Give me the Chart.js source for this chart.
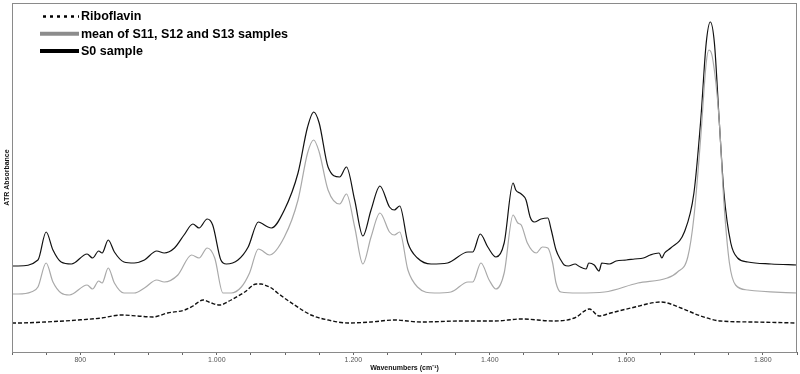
<!DOCTYPE html>
<html>
<head>
<meta charset="utf-8">
<script src="https://cdn.jsdelivr.net/npm/chart.js@4/dist/chart.umd.min.js"></script>
<style>
  html, body { margin: 0; padding: 0; background: #fff; }
  #wrap { width: 800px; height: 374px; position: relative; }
</style>
</head>
<body>
<div id="wrap"><canvas id="spectrum"></canvas></div>
<script>
  // wavenumbers (cm-1) and absorbance (arbitrary units)
  var riboWn = [700,709,748,797,831,860,884,906,928,953,965,980,992,1004,1021,1041,1058,1065,1070,1080,1089,1114,1138,1163,1192,1226,1260,1299,1358,1407,1446,1494,1524,1546,1560,1577,1607,1651,1680,1709,1738,1787,1850];
  var riboVal = [29,29,30,32,34,37,36,35,39,42,46,52,49,47,52,60,68,68,67,64,59,47,37,32,29,30,32,30,31,31,33,31,34,43,36,39,44,50,44,36,31,30,29];

  var meanWn = [700,709,728,738,750,760,772,784,810,818,827,832,841,850,864,879,894,912,923,943,963,974,986,997,1009,1021,1036,1048,1061,1065,1077,1099,1119,1133,1142,1150,1163,1180,1190,1202,1214,1226,1239,1253,1260,1268,1280,1294,1319,1343,1368,1375,1387,1399,1409,1421,1434,1441,1446,1455,1468,1477,1485,1492,1497,1504,1529,1568,1617,1660,1675,1690,1699,1709,1717,1721,1726,1736,1743,1751,1760,1778,1850];
  var meanVal = [58,58,60,65,89,70,59,57,67,63,71,69,84,69,59,59,64,72,70,77,97,94,104,94,59,59,65,79,103,102,97,115,152,199,212,200,162,148,158,125,88,115,139,120,117,120,82,65,59,60,70,70,89,72,63,79,137,129,127,109,99,105,104,89,69,60,59,60,69,74,80,95,135,215,289,302,295,232,149,89,67,62,59];

  var s0Wn = [700,709,738,750,760,772,787,810,818,827,832,841,850,864,879,894,912,923,938,952,965,974,986,994,1006,1014,1031,1046,1061,1065,1075,1080,1099,1119,1133,1142,1150,1163,1180,1190,1202,1214,1226,1239,1253,1260,1268,1280,1294,1314,1338,1368,1375,1386,1397,1409,1421,1434,1438,1446,1453,1459,1465,1475,1485,1490,1497,1504,1509,1515,1525,1530,1541,1545,1553,1560,1564,1575,1585,1600,1612,1625,1635,1648,1652,1656,1665,1685,1699,1709,1717,1723,1729,1736,1743,1753,1763,1778,1812,1850];
  var s0Val = [86,86,92,120,102,90,88,98,94,101,99,112,100,90,89,92,101,99,104,117,128,124,133,127,92,88,92,105,130,129,125,124,142,179,225,240,229,185,175,185,152,116,142,166,145,142,146,109,94,88,89,100,100,118,105,95,109,169,162,158,152,135,130,133,134,122,102,92,87,86,88,86,83,89,87,81,89,88,91,92,93,94,97,99,94,99,104,120,159,232,309,330,309,232,159,109,94,90,88,87];

  var seriesNames = ['Riboflavin', 'mean of S11, S12 and S13 samples', 'S0 sample'];
  var xMin = 700, xMax = 1850, xStep = 50, xLabelStep = 200;

  function toPoints(wn, vals) {
    return wn.map(function (x, i) { return { x: x, y: vals[i] }; });
  }

  // 1000 -> "1.000"
  function fmtWn(v) {
    if (v < 1000) return String(v);
    return Math.floor(v / 1000) + '.' + String(v % 1000).padStart(3, '0');
  }

  // frame round the plot area
  var framePlugin = {
    id: 'frame',
    afterDraw: function (chart) {
      var a = chart.chartArea, ctx = chart.ctx;
      ctx.save();
      ctx.strokeStyle = '#8a8a8a';
      ctx.lineWidth = 1;
      ctx.strokeRect(a.left + 0.5, a.top + 0.5, a.right - a.left - 1, a.bottom - a.top);
      ctx.restore();
    }
  };

  // legend in the top left corner, drawn with thick samples
  var legendPlugin = {
    id: 'cornerLegend',
    afterDraw: function (chart) {
      var a = chart.chartArea, ctx = chart.ctx;
      var samples = [
        { dash: [3, 4], width: 2.5, color: '#000' },
        { dash: [], width: 4, color: '#8c8c8c' },
        { dash: [], width: 4, color: '#000' }
      ];
      ctx.save();
      ctx.font = 'bold 12.5px "Liberation Sans", Arial, sans-serif';
      ctx.textBaseline = 'middle';
      chart.data.datasets.forEach(function (ds, i) {
        var y = a.top + 13.5 + i * 17.3;
        var s = samples[i];
        ctx.beginPath();
        ctx.setLineDash(s.dash);
        ctx.lineWidth = s.width;
        ctx.strokeStyle = s.color;
        ctx.moveTo(a.left + (i === 0 ? 31 : 28), y);
        ctx.lineTo(a.left + 67, y);
        ctx.stroke();
        ctx.setLineDash([]);
        ctx.fillStyle = '#000';
        ctx.fillText(ds.label, a.left + 69, y + 0.5);
      });
      ctx.restore();
    }
  };

  var ctx = document.getElementById('spectrum').getContext('2d');
  new Chart(ctx, {
    type: 'line',
    data: {
      datasets: [{
        label: seriesNames[0],
        data: toPoints(riboWn, riboVal),
        borderColor: '#111',
        borderWidth: 1.4,
        borderDash: [4, 2]
      }, {
        label: seriesNames[1],
        data: toPoints(meanWn, meanVal),
        borderColor: '#a9a9a9',
        borderWidth: 1.2
      }, {
        label: seriesNames[2],
        data: toPoints(s0Wn, s0Val),
        borderColor: '#111',
        borderWidth: 1.2
      }]
    },
    options: {
      responsive: true,
      maintainAspectRatio: false,
      animation: false,
      layout: { padding: { left: 0, right: 3, top: 3, bottom: 0 } },
      elements: {
        point: { radius: 0 },
        line: { cubicInterpolationMode: 'monotone', fill: false }
      },
      plugins: {
        legend: { display: false },
        tooltip: { enabled: false }
      },
      scales: {
        x: {
          type: 'linear',
          min: xMin,
          max: xMax,
          afterFit: function (scale) { scale.height = 22; },
          border: { display: false },
          grid: { drawOnChartArea: false, drawTicks: true, tickLength: 3, color: '#666' },
          ticks: {
            stepSize: xStep,
            autoSkip: false,
            maxRotation: 0,
            padding: 1,
            color: '#555',
            font: { family: '"Liberation Sans", Arial, sans-serif', size: 7 },
            callback: function (v) { return v % xLabelStep === 0 ? fmtWn(v) : ''; }
          },
          title: {
            display: true,
            text: 'Wavenumbers (cm\u207B\u00B9)',
            color: '#111',
            font: { family: '"Liberation Sans", Arial, sans-serif', size: 7, weight: 'bold' },
            padding: { top: 0, bottom: 2 }
          }
        },
        y: {
          min: 0,
          max: 349,
          afterFit: function (scale) { scale.width = 12; },
          border: { display: false },
          grid: { display: false },
          ticks: { display: false },
          title: {
            display: true,
            text: 'ATR Absorbance',
            color: '#111',
            font: { family: '"Liberation Sans", Arial, sans-serif', size: 7, weight: 'bold' },
            padding: { top: 3, bottom: 0 }
          }
        }
      }
    },
    plugins: [framePlugin, legendPlugin]
  });
</script>
</body>
</html>
